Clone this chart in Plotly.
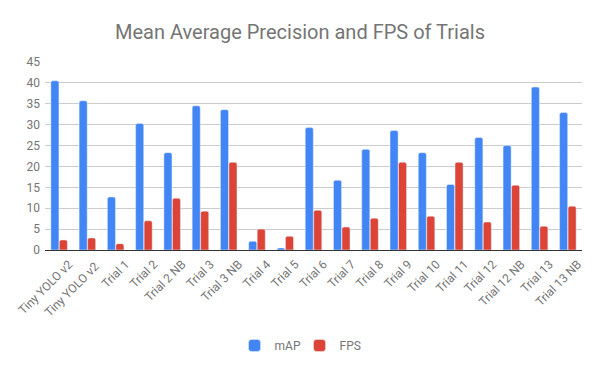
"""Grouped bar chart: mAP and FPS per trial."""

import plotly.graph_objects as go

categories = [
    "Tiny YOLO v2", "Tiny YOLO v2 ", "Trial 1", "Trial 2", "Trial 2 NB",
    "Trial 3", "Trial 3 NB", "Trial 4", "Trial 5", "Trial 6", "Trial 7",
    "Trial 8", "Trial 9", "Trial 10", "Trial 11", "Trial 12", "Trial 12 NB",
    "Trial 13", "Trial 13 NB",
]
map_values = [
    40.5, 35.7, 12.7, 30.3, 23.3, 34.5, 33.6, 2.1, 0.5, 29.3, 16.7,
    24.1, 28.6, 23.3, 15.7, 26.9, 25.0, 39.0, 32.9,
]
fps_values = [
    2.4, 2.9, 1.5, 7.0, 12.4, 9.3, 21.0, 5.0, 3.3, 9.5, 5.5,
    7.6, 21.0, 8.1, 21.0, 6.7, 15.5, 5.7, 10.5,
]

fig = go.Figure()
fig.add_trace(go.Bar(name="mAP", x=categories, y=map_values,
                     marker=dict(color="#4285F4", cornerradius=2)))
fig.add_trace(go.Bar(name="FPS", x=categories, y=fps_values,
                     marker=dict(color="#DB4437", cornerradius=2)))

fig.update_layout(
    width=600,
    height=371,
    margin=dict(l=45, r=18, t=62, b=120),
    paper_bgcolor="white",
    plot_bgcolor="white",
    font=dict(family="Roboto", color="#757575", size=12),
    title=dict(
        text="Mean Average Precision and FPS of Trials",
        x=0.5, xanchor="center", y=0.915, yanchor="middle", yref="container",
        font=dict(size=20, color="#757575"),
    ),
    barmode="group",
    bargap=0.4,
    bargroupgap=0.05,
    legend=dict(
        orientation="h", x=0.474, xanchor="center", y=-0.5, yanchor="middle",
        itemwidth=30, entrywidth=20, entrywidthmode="pixels",
        font=dict(size=12, color="#757575"),
    ),
    xaxis=dict(tickangle=-45, showgrid=False, ticks="", automargin=False,
               ticklabelshift=10, ticklabelstandoff=4,
               tickfont=dict(size=12, color="#757575")),
    yaxis=dict(
        range=[0, 45], dtick=5, gridcolor="#cccccc", gridwidth=1,
        zeroline=True, zerolinecolor="#333333", zerolinewidth=1,
        automargin=False, ticklabelstandoff=4,
        tickfont=dict(size=12, color="#757575"), ticks="",
    ),
)

# page body has a default 8px margin; drop it so the figure sits at 0,0
fig.write_html(
    "out.html",
    config={"displayModeBar": False},
    post_script="document.body.style.margin='0';",
)
